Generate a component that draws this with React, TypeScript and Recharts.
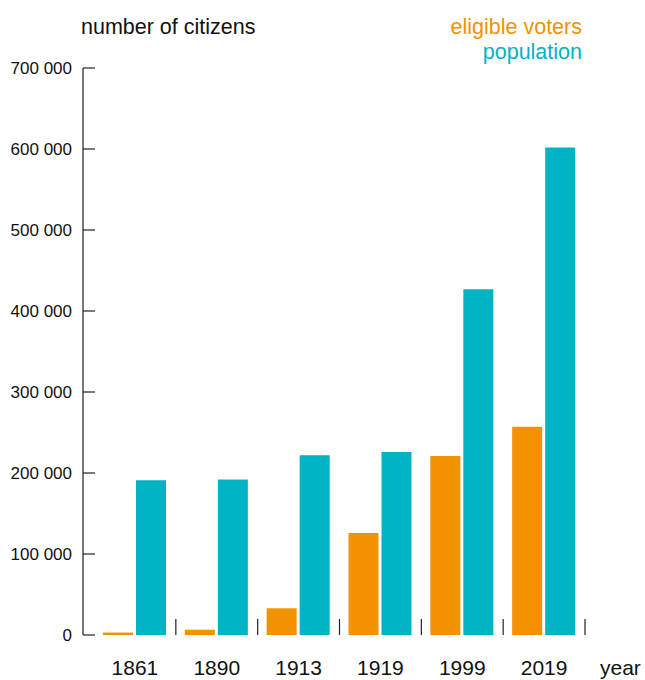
import React from 'react';
import { BarChart, Bar, XAxis, YAxis } from 'recharts';

const years = ['1861', '1890', '1913', '1919', '1999', '2019'];
const eligibleVoters = [3000, 6500, 33000, 126000, 221000, 257000];
const population = [191000, 192000, 222000, 226000, 427000, 602000];
const yTicks = [0, 100000, 200000, 300000, 400000, 500000, 600000, 700000];

const ORANGE = '#f39200';
const TEAL = '#00b3c5';
const FONT = '"Liberation Sans", Arial, Helvetica, sans-serif';

const data = years.map((year, i) => ({
  year,
  voters: eligibleVoters[i],
  population: population[i],
}));

const fmt = (v: number) => (v === 0 ? '0' : v.toLocaleString('en-US').replace(/,/g, ' '));

const YTick = ({ x, y, payload }: any) => (
  <g>
    <line x1={x} x2={x + 12} y1={y} y2={y} stroke="#222" strokeWidth={1.2} />
    <text x={x - 11} y={y} dy={6} textAnchor="end" fill="#111" fontSize={17} fontFamily={FONT}>
      {fmt(payload.value)}
    </text>
  </g>
);

const XTick = ({ x, y, payload }: any) => {
  const half = payload.offset || 41;
  return (
    <g>
      <line x1={x + half} x2={x + half} y1={y - 16} y2={y} stroke="#222" strokeWidth={1.2} />
      <text x={x} y={y} dy={40} textAnchor="middle" fill="#111" fontSize={21} fontFamily={FONT}>
        {payload.value}
      </text>
    </g>
  );
};

export default function App() {
  return (
    <div style={{ position: 'absolute', left: 0, top: 0, width: 645, height: 680, background: '#fff' }}>
      <div style={{ position: 'absolute', left: 81, top: 15, fontFamily: FONT, fontSize: 21.5, lineHeight: '24px', color: '#111' }}>
        number of citizens
      </div>
      <div style={{ position: 'absolute', right: 63, top: 15, textAlign: 'right', fontFamily: FONT, fontSize: 21.5, lineHeight: '25px' }}>
        <div style={{ color: ORANGE }}>eligible voters</div>
        <div style={{ color: TEAL }}>population</div>
      </div>
      <div style={{ position: 'absolute', left: 600, top: 656, fontFamily: FONT, fontSize: 21, lineHeight: '24px', color: '#111' }}>
        year
      </div>
      <BarChart
        width={645}
        height={680}
        data={data}
        margin={{ top: 68, right: 60, bottom: 0, left: 0 }}
        barCategoryGap={9}
        barGap={3}
      >
        <XAxis
          dataKey="year"
          height={45}
          axisLine={false}
          tickLine={false}
          tickSize={0}
          tickMargin={0}
          padding={{ left: 11, right: 0 }}
          tick={<XTick />}
          interval={0}
        />
        <YAxis
          width={83}
          domain={[0, 700000]}
          ticks={yTicks}
          interval={0}
          axisLine={{ stroke: '#777', strokeWidth: 2 }}
          tickLine={false}
          tickSize={0}
          tickMargin={0}
          tick={<YTick />}
        />
        <Bar dataKey="voters" name="eligible voters" fill={ORANGE} isAnimationActive={false} />
        <Bar dataKey="population" name="population" fill={TEAL} isAnimationActive={false} />
      </BarChart>
    </div>
  );
}
